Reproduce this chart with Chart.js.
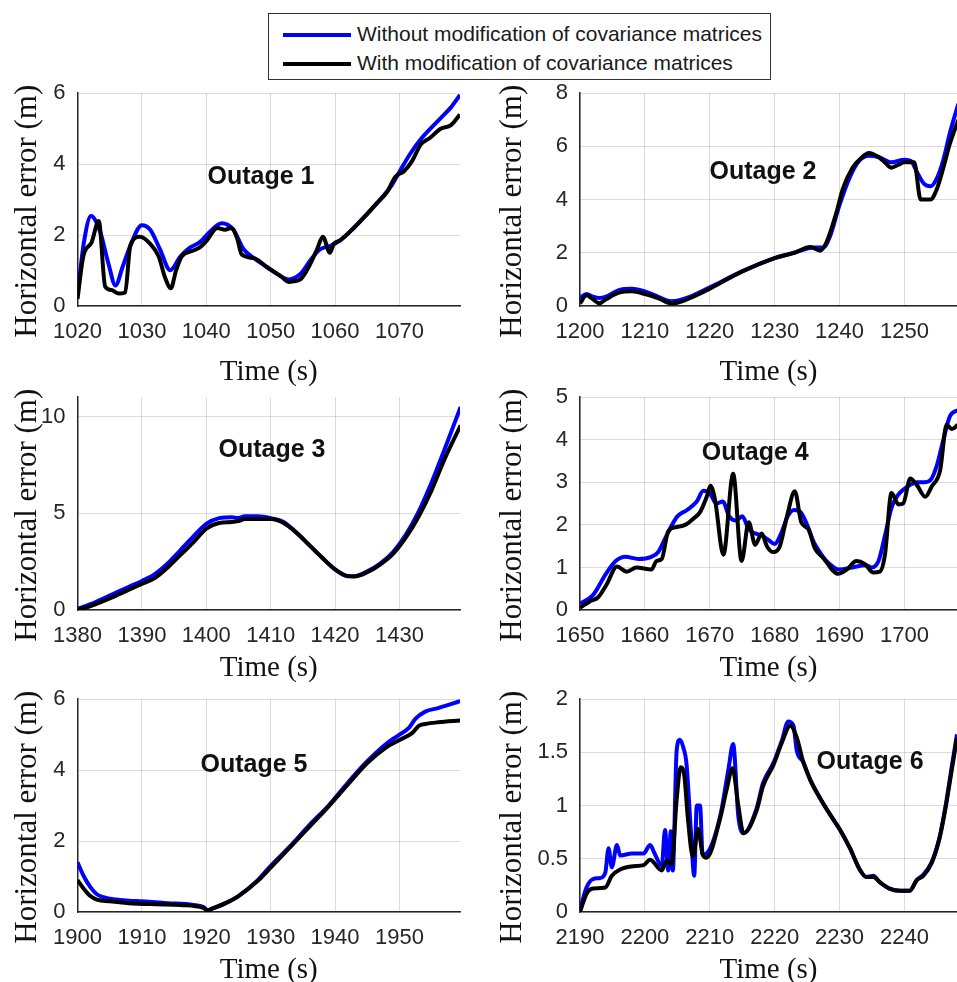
<!DOCTYPE html>
<html>
<head>
<meta charset="utf-8">
<script src="https://cdn.jsdelivr.net/npm/chart.js@4.4.1/dist/chart.umd.min.js"></script>
<style>
  html, body { margin: 0; padding: 0; background: #fff; overflow: hidden; }
  body { width: 957px; height: 982px; position: relative; }
  canvas { position: absolute; }
  #legend {
    position: absolute; left: 268px; top: 13px; width: 503px; height: 67px;
    border: 1px solid #333; background: #fff; box-sizing: border-box;
    font: 21px "Liberation Sans", Arial, sans-serif; color: #1a1a1a;
  }
  #legend .row { position: absolute; left: 14px; height: 26px; line-height: 26px; white-space: nowrap; }
  #legend .swatch { display: inline-block; width: 68px; height: 4px; vertical-align: middle; margin-right: 6px; }
</style>
</head>
<body>
<div id="legend">
  <div class="row" style="top:7px"><span class="swatch" style="background:#0000ff"></span>Without modification of covariance matrices</div>
  <div class="row" style="top:36px"><span class="swatch" style="background:#000"></span>With modification of covariance matrices</div>
</div>
<canvas id="c1" width="478" height="322" style="left:0;top:68px"></canvas>
<canvas id="c2" width="477" height="322" style="left:480px;top:68px"></canvas>
<canvas id="c3" width="478" height="314" style="left:0;top:372px"></canvas>
<canvas id="c4" width="477" height="314" style="left:480px;top:372px"></canvas>
<canvas id="c5" width="478" height="314" style="left:0;top:674px"></canvas>
<canvas id="c6" width="477" height="314" style="left:480px;top:674px"></canvas>
<script>
// [time (s), horizontal error (m)]
const blue1 = [[1020,0.3],[1021,1.8],[1022.1,2.54],[1023.5,2.1],[1024.8,1.2],[1025.9,0.58],[1027,1.1],[1028.2,1.7],[1030,2.28],[1031.3,2.15],[1032.8,1.6],[1034.4,1.01],[1036,1.4],[1037.5,1.65],[1039,1.8],[1040.6,2.1],[1042.4,2.33],[1044.2,2.15],[1045.8,1.6],[1047.4,1.35],[1049.4,1.1],[1051,0.9],[1052.8,0.75],[1054.6,0.9],[1056.2,1.3],[1057.7,1.6],[1059.3,1.7],[1060.8,1.85],[1062.9,2.2],[1065,2.6],[1067,3.0],[1068.6,3.35],[1070.2,3.85],[1071.7,4.3],[1073.3,4.7],[1074.8,5.0],[1076.4,5.3],[1078,5.6],[1079.4,5.95]];
const black1 = [[1020,0.2],[1020.9,1.4],[1022.2,1.8],[1023.3,2.4],[1024.3,0.55],[1025.3,0.45],[1026.4,0.35],[1027.4,0.38],[1028.2,1.7],[1029.7,1.95],[1031.3,1.75],[1032.6,1.4],[1033.6,0.8],[1034.5,0.5],[1035.3,1.0],[1036.2,1.4],[1037.8,1.55],[1039,1.65],[1040.1,1.85],[1041.7,2.2],[1042.9,2.15],[1043.9,2.2],[1044.8,1.9],[1045.5,1.45],[1047.4,1.35],[1049.4,1.1],[1051.5,0.85],[1052.8,0.68],[1054.6,0.75],[1055.9,1.1],[1057.2,1.6],[1058.1,1.95],[1059.2,1.5],[1059.8,1.75],[1060.8,1.85],[1062.9,2.2],[1065,2.6],[1066.5,2.9],[1068,3.2],[1069.4,3.65],[1070.7,3.8],[1072,4.1],[1073.3,4.55],[1074.8,4.75],[1076.4,5.0],[1078,5.1],[1079.4,5.4]];

const blue2 = [[1200,0.3],[1201,0.45],[1202,0.35],[1203,0.3],[1204,0.35],[1206,0.6],[1208,0.65],[1210,0.55],[1212,0.35],[1214,0.18],[1215,0.2],[1217,0.35],[1220,0.7],[1225,1.3],[1230,1.8],[1233,2.0],[1236,2.2],[1237.5,2.2],[1238.5,2.6],[1240,3.8],[1241.5,4.8],[1243,5.45],[1244.5,5.65],[1246,5.6],[1248,5.4],[1250,5.5],[1251,5.45],[1252,5.0],[1253,4.6],[1254,4.5],[1255,4.8],[1256,5.5],[1257,6.5],[1258.3,7.6]];
const black2 = [[1200,0.1],[1201,0.4],[1202,0.25],[1203,0.1],[1204,0.25],[1206,0.5],[1208,0.55],[1210,0.45],[1212,0.3],[1214,0.1],[1215,0.12],[1217,0.3],[1220,0.65],[1225,1.3],[1230,1.8],[1233,2.0],[1235.5,2.22],[1237,2.08],[1238,2.4],[1239.5,3.5],[1240.5,4.4],[1242,5.2],[1243.5,5.6],[1244.5,5.75],[1246,5.6],[1247,5.4],[1248,5.2],[1249,5.3],[1250,5.4],[1251.5,5.4],[1252.5,4.0],[1254,4.0],[1255,4.4],[1256,5.2],[1257,6.1],[1258.3,7.0]];

const blue3 = [[1380,0.05],[1382,0.3],[1385,0.75],[1388,1.2],[1390,1.5],[1392,1.85],[1394,2.4],[1396,3.1],[1398,3.8],[1400,4.45],[1402,4.75],[1404,4.8],[1405,4.75],[1406,4.85],[1408,4.85],[1410,4.75],[1412,4.55],[1414,4.0],[1416,3.35],[1418,2.7],[1420,2.1],[1422,1.75],[1423,1.75],[1425,2.0],[1427,2.4],[1429,3.0],[1431,3.9],[1433,5.1],[1435,6.6],[1437,8.3],[1439.5,10.5]];
const black3 = [[1380,0.0],[1382,0.2],[1385,0.6],[1388,1.05],[1390,1.35],[1392,1.65],[1394,2.2],[1396,2.85],[1398,3.5],[1400,4.2],[1402,4.5],[1404,4.55],[1405,4.6],[1406,4.7],[1408,4.7],[1410,4.7],[1412,4.5],[1414,4.0],[1416,3.35],[1418,2.7],[1420,2.1],[1422,1.75],[1423,1.73],[1425,1.95],[1427,2.35],[1429,2.9],[1431,3.75],[1433,4.85],[1435,6.2],[1437,7.8],[1439.5,9.55]];

const blue4 = [[1650,0.15],[1652,0.35],[1654,0.85],[1655.5,1.15],[1657,1.25],[1659,1.2],[1661,1.25],[1662,1.35],[1663.5,1.8],[1665,2.2],[1666.5,2.35],[1668,2.55],[1669,2.8],[1670,2.75],[1671,2.5],[1672,2.55],[1673,2.2],[1674,2.1],[1675,2.2],[1676,1.9],[1677,1.8],[1678,1.75],[1679,1.65],[1680,1.55],[1681,1.8],[1682,2.2],[1683,2.35],[1684,2.3],[1685,2.0],[1686,1.6],[1687,1.35],[1688,1.15],[1690,0.95],[1692,1.0],[1694,1.05],[1695,1.0],[1696,1.15],[1697,1.75],[1698,2.4],[1699,2.7],[1700,2.85],[1701,2.95],[1702,3.0],[1703,3.0],[1704,3.05],[1705,3.4],[1706,4.0],[1707,4.55],[1708.2,4.7]];
const black4 = [[1650,0.05],[1651.5,0.2],[1652.8,0.3],[1654.1,0.6],[1655.7,1.02],[1657.2,0.9],[1658.7,1.0],[1661,0.95],[1661.8,1.15],[1662.6,1.2],[1663.6,1.85],[1664.9,1.95],[1666.2,2.0],[1667.5,2.15],[1668.5,2.3],[1669.5,2.65],[1670.1,2.92],[1670.8,2.6],[1672.1,1.3],[1673.6,3.2],[1674.9,1.15],[1676,2.06],[1677,1.53],[1678,1.8],[1678.8,1.5],[1679.8,1.36],[1680.8,1.5],[1681.9,2.2],[1683.1,2.79],[1684.1,2.06],[1685.2,1.9],[1686.2,1.45],[1687.5,1.22],[1689.8,0.85],[1691.1,0.95],[1692.6,1.15],[1693.9,1.08],[1695.2,0.88],[1696.2,0.9],[1697,1.3],[1698,2.75],[1699.1,2.48],[1699.8,2.5],[1700.9,3.09],[1701.9,2.94],[1703.2,2.66],[1704.2,2.9],[1705.5,3.28],[1706.5,4.35],[1707.3,4.25],[1708.2,4.35]];

const blue5 = [[1900,1.4],[1901,1.0],[1902,0.7],[1903,0.5],[1904,0.42],[1906,0.35],[1908,0.32],[1910,0.3],[1914,0.25],[1918,0.2],[1919.5,0.15],[1920.2,0.05],[1921,0.1],[1923,0.25],[1925,0.45],[1928,0.9],[1930,1.3],[1933,1.85],[1936,2.45],[1939,3.0],[1942,3.65],[1945,4.25],[1948,4.75],[1950,5.0],[1951.5,5.2],[1952.5,5.45],[1954,5.65],[1956,5.75],[1959.5,5.95]];
const black5 = [[1900,0.9],[1901,0.65],[1902,0.45],[1903,0.35],[1905,0.3],[1908,0.25],[1912,0.22],[1916,0.2],[1919.5,0.12],[1920.2,0.05],[1921,0.1],[1923,0.25],[1925,0.45],[1928,0.88],[1930,1.25],[1933,1.82],[1936,2.4],[1939,2.98],[1942,3.6],[1945,4.2],[1948,4.65],[1950,4.85],[1952,5.05],[1953,5.25],[1954,5.3],[1956,5.35],[1959.5,5.4]];

const blue6 = [[2190,0.02],[2191,0.23],[2192,0.31],[2193.1,0.32],[2193.9,0.37],[2194.4,0.6],[2194.9,0.42],[2195.7,0.63],[2196.2,0.53],[2198,0.55],[2199.8,0.55],[2200.8,0.63],[2201.5,0.55],[2202.6,0.43],[2203.1,0.77],[2203.6,0.39],[2204,0.76],[2204.3,0.39],[2204.9,1.52],[2205.4,1.62],[2206,1.53],[2206.4,1.4],[2207.1,0.75],[2207.6,0.34],[2208,1.0],[2208.5,1.0],[2208.9,0.54],[2209.5,0.55],[2211.6,0.9],[2212.9,1.35],[2213.6,1.58],[2214.4,0.9],[2215.2,0.74],[2217.2,0.97],[2218.2,1.21],[2219.8,1.4],[2221.1,1.61],[2222.1,1.79],[2222.9,1.75],[2223.4,1.52],[2224.4,1.41],[2225.5,1.24],[2227,1.07],[2228.5,0.92],[2230,0.78],[2231.6,0.6],[2233.1,0.4],[2234.1,0.33],[2235.2,0.34],[2236.2,0.28],[2237.7,0.22],[2239.3,0.2],[2240.8,0.2],[2241.9,0.3],[2242.9,0.35],[2244.2,0.47],[2245.4,0.7],[2246.4,1.02],[2247.2,1.33],[2248.1,1.67]];
const black6 = [[2190,0.0],[2191,0.17],[2192,0.22],[2193.9,0.23],[2194.9,0.34],[2196.2,0.4],[2198.2,0.43],[2199.8,0.44],[2200.8,0.49],[2202.6,0.39],[2203.3,0.48],[2204.1,0.45],[2204.9,1.06],[2205.5,1.36],[2206.1,1.27],[2206.6,0.9],[2207.4,0.52],[2208.2,0.78],[2208.9,0.54],[2209.5,0.51],[2211.6,0.88],[2212.6,1.15],[2213.5,1.35],[2214.4,1.0],[2215.2,0.74],[2217.2,0.95],[2218.2,1.18],[2219.8,1.38],[2221.1,1.59],[2222.4,1.75],[2223.4,1.64],[2224.4,1.41],[2225.5,1.24],[2227,1.07],[2228.5,0.92],[2230,0.78],[2231.6,0.6],[2233.1,0.4],[2234.1,0.33],[2235.2,0.33],[2236.2,0.28],[2237.7,0.22],[2239.3,0.2],[2240.8,0.2],[2241.9,0.3],[2242.9,0.34],[2244.2,0.46],[2245.4,0.69],[2246.4,1.0],[2247.2,1.3],[2248.1,1.64]];

const SERIF = '"Liberation Serif", "Times New Roman", serif';
const SANS = '"Liberation Sans", Arial, sans-serif';

// draws the "Outage n" tag at a data position
const outageLabel = {
  id: 'outageLabel',
  afterDatasetsDraw(chart, args, opts) {
    const { ctx, scales: { x, y } } = chart;
    ctx.save();
    ctx.font = 'bold 25px ' + SANS;
    ctx.fillStyle = '#111';
    ctx.textAlign = 'center';
    ctx.textBaseline = 'middle';
    ctx.fillText(opts.text, x.getPixelForValue(opts.at[0]), y.getPixelForValue(opts.at[1]));
    ctx.restore();
  }
};

function toPoints(arr) {
  return arr.map(p => ({ x: p[0], y: p[1] }));
}

function makePanel(id, o) {
  const right = o.col === 1;
  new Chart(document.getElementById(id), {
    type: 'line',
    data: {
      datasets: [
        { data: toPoints(o.black), borderColor: '#000', order: 0 },
        { data: toPoints(o.blue), borderColor: '#0000ff', order: 1 }
      ]
    },
    options: {
      responsive: false,
      animation: false,
      datasets: { line: { borderWidth: 4, pointRadius: 0, cubicInterpolationMode: 'monotone', fill: false } },
      layout: { padding: { left: right ? 14 : 9, right: right ? 0 : 18, top: 20, bottom: 0 } },
      plugins: {
        legend: { display: false },
        tooltip: { enabled: false },
        outageLabel: { text: o.label, at: o.labelAt }
      },
      scales: {
        x: {
          type: 'linear', min: o.xMin, max: o.xMax,
          afterFit: s => { s.height = o.xAxisH; },
          ticks: { stepSize: 10, includeBounds: false, padding: 13, maxRotation: 0, autoSkip: false,
                   color: '#262626', font: { family: SANS, size: 22 }, callback: v => String(v) },
          grid: { color: 'rgba(0,0,0,0.14)', lineWidth: 1, drawTicks: false },
          border: { color: '#262626', width: 1.5 },
          title: { display: true, text: 'Time (s)', color: '#111', padding: 0,
                   font: { family: SERIF, size: 29 } }
        },
        y: {
          min: 0, max: o.yMax,
          afterFit: s => { s.width = right ? 86 : 68.5; },
          ticks: { stepSize: o.yStep, includeBounds: false, padding: 12,
                   color: '#262626', font: { family: SANS, size: 22 }, callback: v => String(v) },
          grid: { color: 'rgba(0,0,0,0.14)', lineWidth: 1, drawTicks: false },
          border: { color: '#262626', width: 1.5 },
          title: { display: true, text: 'Horizontal error (m)\u00a0\u00a0\u00a0', color: '#111', padding: 0,
                   font: { family: SERIF, size: 31 } }
        }
      }
    },
    plugins: [outageLabel]
  });
}

makePanel('c1', { col: 0, blue: blue1, black: black1, xMin: 1020, xMax: 1079.4, yMax: 6, yStep: 2, xAxisH: 84, label: 'Outage 1', labelAt: [1048.5, 3.64] });
makePanel('c2', { col: 1, blue: blue2, black: black2, xMin: 1200, xMax: 1258.1, yMax: 8, yStep: 2, xAxisH: 84, label: 'Outage 2', labelAt: [1228.2, 5.03] });
makePanel('c3', { col: 0, blue: blue3, black: black3, xMin: 1380, xMax: 1439.4, yMax: 11, yStep: 5, xAxisH: 76, label: 'Outage 3', labelAt: [1410.2, 8.28] });
makePanel('c4', { col: 1, blue: blue4, black: black4, xMin: 1650, xMax: 1708.1, yMax: 5, yStep: 1, xAxisH: 76, label: 'Outage 4', labelAt: [1677, 3.69] });
makePanel('c5', { col: 0, blue: blue5, black: black5, xMin: 1900, xMax: 1959.4, yMax: 6, yStep: 2, xAxisH: 76, label: 'Outage 5', labelAt: [1927.4, 4.13] });
makePanel('c6', { col: 1, blue: blue6, black: black6, xMin: 2190, xMax: 2248.1, yMax: 2, yStep: 0.5, xAxisH: 76, label: 'Outage 6', labelAt: [2234.7, 1.41] });
</script>
</body>
</html>
